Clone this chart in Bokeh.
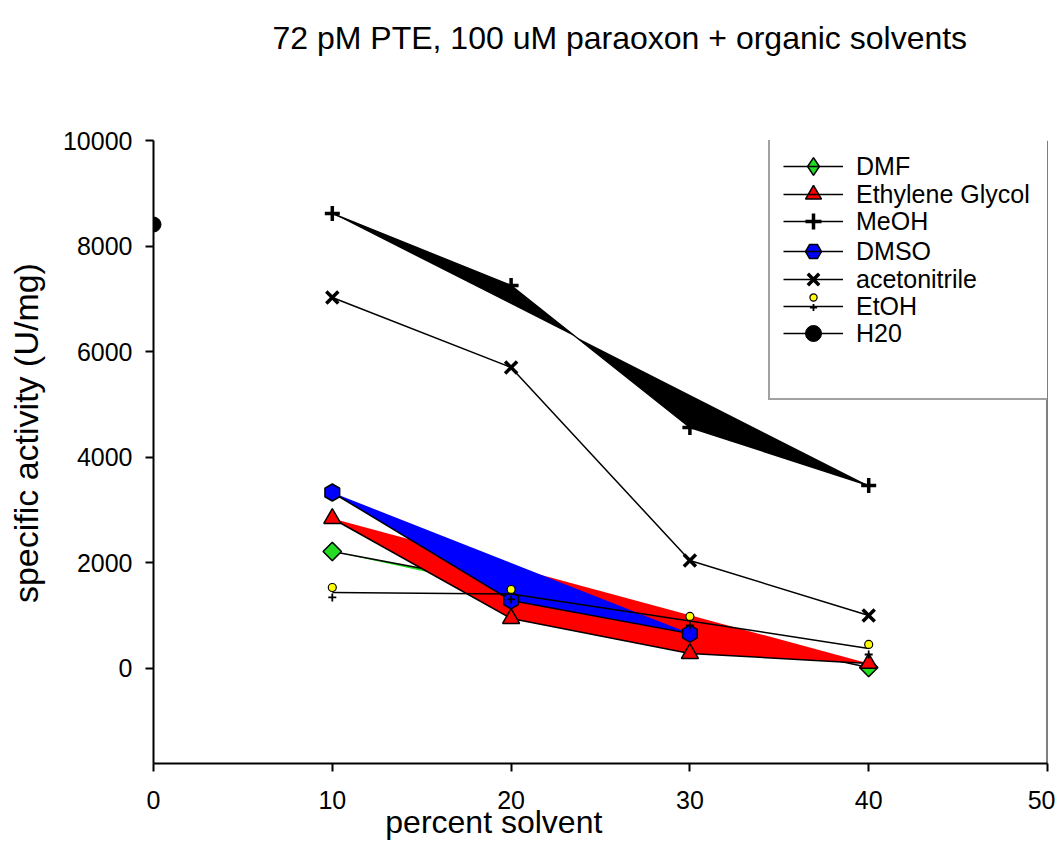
import numpy as np
from bokeh.plotting import figure
from bokeh.models import Legend, LegendItem, Span, FixedTicker, Range1d, Title
from bokeh.embed import file_html
from bokeh.resources import INLINE

# ---- data ----
percent = [10, 20, 30, 40]
dmf = [2216, 1576, 750, 19]
ethylene_glycol = [2841, 947, 284, 95]
meoh = [8617, 7254, 4564, 3466]
dmso_percent = [10, 20, 30]
dmso = [3333, 1288, 660]
acetonitrile = [7027, 5701, 2045, 1004]
etoh_mean = [1439, 1410, 900, 380]
etoh_high = [1534, 1496, 985, 455]
etoh_low = [1345, 1307, 814, 265]
h2o_percent = [0]
h2o = [8409]

x_ticks = [0, 10, 20, 30, 40, 50]
y_ticks = [0, 2000, 4000, 6000, 8000, 10000]

FONT = "Liberation Sans"
NB = "\u00a0"

p = figure(width=1055, height=863, output_backend="svg", toolbar_location=None,
           title=None,
           x_range=Range1d(0, 50), y_range=Range1d(-1800, 10000),
           min_border_left=153, min_border_right=8, min_border_top=140,
           min_border_bottom=100)
p.outline_line_color = None
p.grid.visible = False
p.background_fill_color = "white"
p.border_fill_color = "white"

# spacer between frame and title, then the title itself
p.add_layout(Title(text=NB, text_font_size="1px", standoff=82), "above")
p.add_layout(Title(text="72 pM PTE, 100 uM paraoxon + organic solvents",
                   text_font=FONT, text_font_size="32px", text_font_style="normal",
                   text_color="black", align="left", offset=119, standoff=0),
             "above")

for ax in (p.xaxis[0], p.yaxis[0]):
    ax.axis_line_width = 2
    ax.axis_line_color = "black"
    ax.major_tick_line_width = 2
    ax.major_tick_line_color = "black"
    ax.major_tick_out = 8
    ax.major_tick_in = 0
    ax.minor_tick_line_color = None
    ax.major_label_text_font = FONT
    ax.major_label_text_font_size = "25px"
    ax.major_label_text_color = "black"
    ax.axis_label_text_font = FONT
    ax.axis_label_text_font_style = "normal"
    ax.axis_label_text_color = "black"

p.xaxis.axis_label_text_font_size = "32px"
p.yaxis.axis_label_text_font_size = "34px"
p.xaxis.ticker = FixedTicker(ticks=x_ticks)
p.yaxis.ticker = FixedTicker(ticks=y_ticks)
p.xaxis.axis_label = "percent solvent" + NB * 24
p.yaxis.axis_label = NB * 4 + "specific activity (U/mg)"
p.xaxis.major_label_standoff = 19
p.xaxis.axis_label_standoff = -8
p.yaxis.major_label_standoff = 13
p.yaxis.axis_label_standoff = 15

# right frame line
p.add_layout(Span(location=50, dimension="height", line_color="black", line_width=2))

LW = 1.5
GREEN = "#22dd22"

# DMF
p.patch(percent, dmf, fill_color=GREEN, line_color=None)
r_dmf_l = p.line(percent, dmf, line_color="black", line_width=LW)
# legend key glyph (Bokeh diamond), hidden under the rotated squares
r_dmf_key = p.scatter(percent, dmf, marker="diamond", size=16,
                      fill_color=GREEN, line_color="black", line_width=1.5)
r_dmf_m = p.scatter(percent, dmf, marker="square", angle=np.pi / 4, size=13,
                    fill_color=GREEN, line_color="black", line_width=1.5)

# Ethylene glycol
p.patch(percent, ethylene_glycol, fill_color="#ff0000", line_color=None)
r_eg_l = p.line(percent, ethylene_glycol, line_color="black", line_width=LW)
r_eg_m = p.scatter(percent, ethylene_glycol, marker="triangle", size=17,
                   fill_color="#ff0000", line_color="black", line_width=1.5)

# MeOH
p.patch(percent, meoh, fill_color="black", line_color=None)
r_me_l = p.line(percent, meoh, line_color="black", line_width=LW)
r_me_m = p.scatter(percent, meoh, marker="cross", size=15,
                   line_color="black", line_width=3.5)

# DMSO
p.patch(dmso_percent, dmso, fill_color="#0000ff", line_color=None)
r_dm_l = p.line(dmso_percent, dmso, line_color="black", line_width=LW)
r_dm_m = p.scatter(dmso_percent, dmso, marker="hex", angle=np.pi / 6, size=17,
                   fill_color="#0000ff", line_color="black", line_width=1.5)

# acetonitrile
r_ac_l = p.line(percent, acetonitrile, line_color="black", line_width=LW)
r_ac_m = p.scatter(percent, acetonitrile, marker="x", size=17,
                   line_color="black", line_width=3.5)

# EtOH
r_et_l = p.line(percent, etoh_mean, line_color="black", line_width=LW)
r_et_c = p.scatter(percent, etoh_high, marker="circle", size=8,
                   fill_color="#ffff00", line_color="black", line_width=1.2)
r_et_p = p.scatter(percent, etoh_low, marker="cross", size=8,
                   line_color="black", line_width=1.8)

# H2O
r_h2_l = p.line(h2o_percent, h2o, line_color="black", line_width=LW)
r_h2_m = p.scatter(h2o_percent, h2o, marker="circle", size=15,
                   fill_color="black", line_color="black")

# ---- legend: a box plus one single-entry legend per row ----
r_blank = p.scatter([], [], marker="circle", size=1, fill_alpha=0, line_alpha=0)
FRAME_BOTTOM = 763
FRAME_LEFT = 153

box = Legend(items=[LegendItem(label=NB, renderers=[r_blank])],
             location=(768 - FRAME_LEFT, FRAME_BOTTOM - 400),
             label_text_font_size="1px", label_height=1, label_standoff=0,
             glyph_height=262, glyph_width=272, padding=0, margin=0, spacing=0,
             border_line_color="#444444", border_line_width=2,
             background_fill_color="white", background_fill_alpha=1)
p.add_layout(box, "center")


def row_legend(label, renderers, cy, gh=40, font="25px"):
    return Legend(items=[LegendItem(label=label, renderers=renderers)],
                  location=(783 - FRAME_LEFT, FRAME_BOTTOM - (cy + gh / 2)),
                  label_text_font=FONT, label_text_font_size=font,
                  label_text_color="black", label_height=24,
                  glyph_height=gh, glyph_width=60, label_standoff=13,
                  padding=0, margin=0, spacing=0,
                  border_line_color=None, background_fill_alpha=0)


rows = [
    ("DMF", [r_dmf_key, r_dmf_l], 166, 44),
    ("Ethylene Glycol", [r_eg_m, r_eg_l], 194, 40),
    ("MeOH", [r_me_l, r_me_m], 221, 40),
    ("DMSO", [r_dm_m, r_dm_l], 251, 40),
    ("acetonitrile", [r_ac_l, r_ac_m], 279, 40),
    ("EtOH", [r_et_l], 306, 40),
    ("H20", [r_h2_l, r_h2_m], 333, 40),
]
for label, rends, cy, gh in rows:
    p.add_layout(row_legend(label, rends, cy, gh=gh), "center")

# EtOH composite symbol: small yellow circle above a small plus
p.add_layout(row_legend(NB, [r_et_c], 302, gh=18), "center")
p.add_layout(row_legend(NB, [r_et_p], 312, gh=18), "center")

open("out.html", "w").write(file_html(p, INLINE))
